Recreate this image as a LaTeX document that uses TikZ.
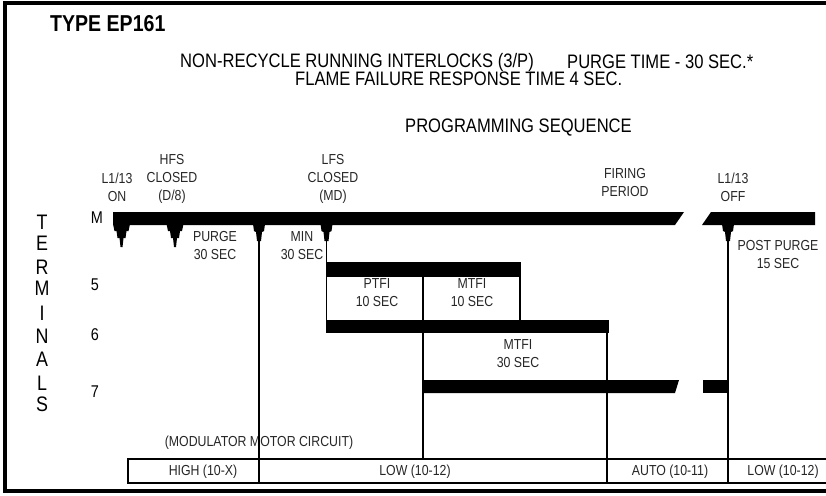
\documentclass[tikz,border=0pt]{standalone}
\usepackage{fontspec}
\setmainfont{Liberation Sans}[FakeStretch=0.85]
\newfontfamily\boldcond{Liberation Sans Bold}[FakeStretch=0.85]
\begin{document}
\begin{tikzpicture}[x=1pt,y=-1pt,
  hdr/.style={inner sep=0pt,font=\fontsize{19.5}{22}\selectfont},
  small/.style={inner sep=0pt,align=center,text=black!85,font=\fontsize{14.5}{18}\selectfont},
  term/.style={inner sep=0pt,font=\fontsize{21}{24}\selectfont},
  num/.style={inner sep=0pt,font=\fontsize{17}{20}\selectfont},
  barfill/.style={fill=black,draw=none},
  tline/.style={line width=1.6pt},
  thline/.style={line width=2.2pt},
  boxline/.style={line width=1.3pt}]
\useasboundingbox (0,0) rectangle (826,495);
% outer frame (right side lies outside the picture)
\draw[line width=3.5pt] (5,3) rectangle (845,491);

% titles
\node[inner sep=0pt,anchor=west,font=\boldcond\fontsize{23}{26}\selectfont] (title) at (50,24) {TYPE EP161};
\node[hdr,anchor=west] (h1) at (180,62) {NON-RECYCLE RUNNING INTERLOCKS (3/P)};
\node[hdr,anchor=west] (h1b) at (567,62) {PURGE TIME - 30 SEC.*};
\node[hdr,anchor=west] (h2) at (295,79) {FLAME FAILURE RESPONSE TIME 4 SEC.};
\node[hdr,anchor=west] (ps) at (405,128) {PROGRAMMING SEQUENCE};

% TERMINALS
\foreach \l/\y [count=\i] in {T/222,E/243,R/267,M/288,I/313,N/336,A/359,L/383,S/404}
  \node[term] (t\i) at (42,\y) {\l};
\node[num] (tM) at (97,218) {M};
\node[num] (t5) at (95,285) {5};
\node[num] (t6) at (95,335) {6};
\node[num] (t7) at (95,392) {7};

% labels above bar M
\node[small] (l1on) at (117,187.5) {L1/13\\ON};
\node[small] (hfs) at (172,178.5) {HFS\\CLOSED\\(D/8)};
\node[small] (lfs) at (333,178.5) {LFS\\CLOSED\\(MD)};
\node[small] (fir) at (625,182.5) {FIRING\\PERIOD};
\node[small] (l1off) at (733,187.5) {L1/13\\OFF};

% labels in the sequence
\node[small] (purge) at (215,245.5) {PURGE\\30 SEC};
\node[small] (min) at (302,245.5) {MIN\\30 SEC};
\node[small] (ptfi) at (377,293) {PTFI\\10 SEC};
\node[small] (mtfi1) at (472,293) {MTFI\\10 SEC};
\node[small] (post) at (778,255) {POST PURGE\\15 SEC};
\node[small] (mtfi2) at (518,353.5) {MTFI\\30 SEC};
\node[small] (mmc) at (259,443) {(MODULATOR MOTOR CIRCUIT)};

% bars
\fill[barfill] (113,212) -- (684,212) -- (675,225) -- (113,225) -- cycle;
\fill[barfill] (711,212) -- (815,212) -- (815,225) -- (702,225) -- cycle;
\fill[barfill] (326,262) rectangle (521,277);
\fill[barfill] (326,320) rectangle (609,333);
\fill[barfill] (423,380) -- (679,380) -- (675,393) -- (423,393) -- cycle;
\fill[barfill] (703,380) rectangle (728,393);

% drips (full)
\foreach \c in {121.5,175}
  \fill[barfill] (\c-8.5,224) -- (\c+8.5,224) -- (\c+7,231) -- (\c+5,231) -- (\c+4,238)
     -- (\c+2,238) -- (\c+1,247) -- (\c-1,247) -- (\c-2,238) -- (\c-4,238) -- (\c-5,231)
     -- (\c-7,231) -- cycle;
% drips (funnel into line)
\foreach \c in {259,326.5,728}
  \fill[barfill] (\c-6,224) -- (\c+6,224) -- (\c+5,231) -- (\c+3,232) -- (\c+2,241)
     -- (\c-2,241) -- (\c-3,232) -- (\c-5,231) -- cycle;

% coordinates for connectors
\coordinate (d3) at (259,240);
\coordinate (d4) at (326.5,240);
\coordinate (d5) at (728,240);
\coordinate (b5a) at (423,277);
\coordinate (b5b) at (520,277);
\coordinate (b6b) at (520,320);
\coordinate (b6r) at (607,333);
\coordinate (b6l) at (326.5,333);

% bottom box
\draw[boxline] (845,459) -- (128,459) -- (128,483) -- (845,483);
\coordinate (bx1) at (259,483);
\coordinate (bx2) at (423,459);
\coordinate (bx3) at (607,483);
\coordinate (bx4) at (728,483);

% vertical lines
\draw[thline] (d3) -- (bx1);
\draw[tline] (d4) -- (b6l);
\draw[tline] (b5a) -- (bx2);
\draw[tline] (b5b) -- (b6b);
\draw[tline] (b6r) -- (bx3);
\draw[thline] (d5) -- (bx4);

% box labels
\node[small] (high) at (203,472) {HIGH (10-X)};
\node[small] (low1) at (415,472) {LOW (10-12)};
\node[small] (auto) at (670,472) {AUTO (10-11)};
\node[small] (low2) at (783,472) {LOW (10-12)};
\end{tikzpicture}
\end{document}
